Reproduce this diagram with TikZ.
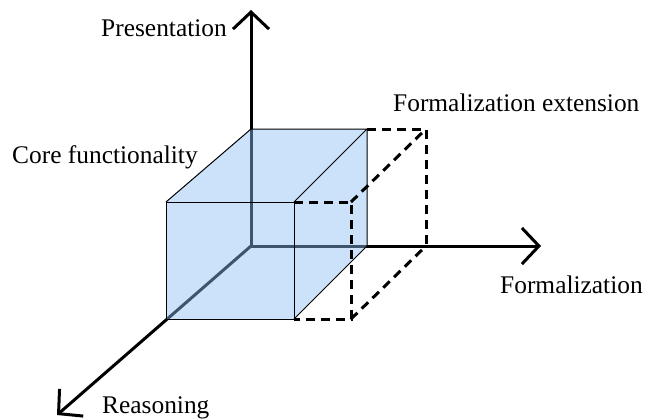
\documentclass[tikz,border=0pt]{standalone}
\usepackage{fontspec}
\setmainfont{Liberation Serif}
\usetikzlibrary{arrows.meta}
\definecolor{cubeblue}{RGB}{140,190,245}
\begin{document}
\begin{tikzpicture}[x=1bp,y=-1bp,
  axis/.style={line width=3bp, -{Straight Barb[length=17bp,width=36bp]}},
  cubeedge/.style={line width=1bp, black},
  ext/.style={line width=3bp, dash pattern=on 9bp off 6bp},
  lbl/.style={font=\fontsize{25.4bp}{30bp}\selectfont, inner sep=0pt}]
\useasboundingbox (0,0) rectangle (645,419);
% cube corners
\coordinate (O) at (251,246);
\coordinate (FTL) at (166,202);
\coordinate (FBL) at (166,319);
\coordinate (FTR) at (294,202);
\coordinate (FBR) at (294,319);
\coordinate (BTL) at (251,129);
\coordinate (BTR) at (367,129);
\coordinate (BBR) at (367,246);
% extension corners
\coordinate (EFT) at (351,202);
\coordinate (EFB) at (351,319);
\coordinate (EBT) at (426,129);
\coordinate (EBB) at (426,246);
% axis tips
\coordinate (TipP) at (251,10);
\coordinate (TipF) at (541,246);
\coordinate (TipR) at (57,415);
% axes
\draw[axis] (O) -- (TipP);
\draw[axis] (O) -- (TipF);
\draw[axis] (O) -- (TipR);
% cube
\fill[cubeblue, opacity=0.45] (FTL) -- (BTL) -- (BTR) -- (BBR) -- (FBR) -- (FBL) -- cycle;
\draw[cubeedge] (FTL) -- (FTR) -- (FBR) -- (FBL) -- cycle;
\draw[cubeedge] (FTL) -- (BTL) -- (BTR) -- (FTR);
\draw[cubeedge] (BTR) -- (BBR) -- (FBR);
% extension
\draw[ext] (FTR) -- (EFT) -- (EFB) -- (FBR);
\draw[ext] (BTR) -- (EBT) -- (EBB);
\draw[ext] (EFT) -- (EBT);
\draw[ext] (EFB) -- (EBB);
% labels
\node[lbl, anchor=base east] (lp) at (227,36) {Presentation};
\node[lbl, anchor=base west] (lc) at (12,163) {Core functionality};
\node[lbl, anchor=base west] (le) at (393,111) {Formalization extension};
\node[lbl, anchor=base west] (lf) at (500,293) {Formalization};
\node[lbl, anchor=base west] (lr) at (102,413) {Reasoning};
\end{tikzpicture}
\end{document}
